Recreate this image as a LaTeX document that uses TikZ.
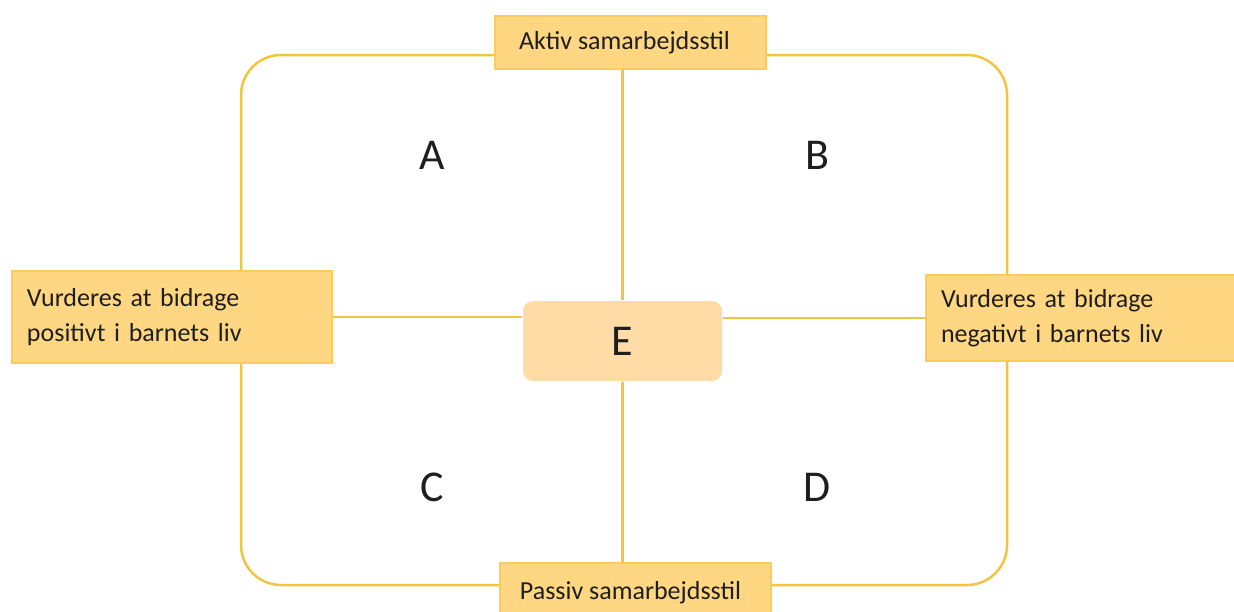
\documentclass[tikz,border=0pt]{standalone}
\usepackage{fontspec}
\setmainfont{Carlito}
\usetikzlibrary{positioning}
\definecolor{linegold}{RGB}{243,196,62}
\definecolor{boxfill}{RGB}{255,215,130}
\definecolor{boxdraw}{RGB}{250,204,88}
\definecolor{efill}{RGB}{255,219,166}
\definecolor{inktext}{RGB}{30,30,30}

\begin{document}
\begin{tikzpicture}[x=1pt,y=-1pt,line width=2.5pt,
  frame/.style={draw=linegold,rounded corners=40pt,minimum width=766pt,minimum height=530pt,inner sep=0pt},
  label box/.style={draw=boxdraw,fill=boxfill,line width=1.5pt,inner sep=0pt,text=inktext,
    font=\fontsize{26}{35}\selectfont},
  side box/.style={label box,align=left,text width=290pt,minimum height=92pt},
  letter/.style={font=\fontsize{44}{44}\selectfont,text=inktext}]
  \useasboundingbox (0,0) rectangle (1234,611);
  \node[frame] (frame) at (624,320) {};
  \node[label box,minimum width=271pt,minimum height=53pt] (top) at (630.5,42.5) {\hspace*{-12pt}Aktiv samarbejdsstil};
  \node[label box,minimum width=271pt,minimum height=60pt] (bottom) at (635.5,593) {\raisebox{6pt}{\hspace*{-10pt}Passiv samarbejdsstil}};
  \node[side box,minimum width=320pt] (left) at (172,317) {Vurderes at bidrage\\positivt i barnets liv};
  \node[side box,minimum width=320pt,minimum height=86pt] (right) at (1086,318) {Vurderes at bidrage\\negativt i barnets liv};
  \node[fill=efill,rounded corners=10pt,minimum width=199pt,minimum height=80pt,letter] (E) at (622.5,341) {E};
  \node[letter] (A) at (432,155) {A};
  \node[letter] (B) at (817,155) {B};
  \node[letter] (C) at (432,487) {C};
  \node[letter] (D) at (817,487) {D};
  \begin{scope}[draw=linegold]
    \draw[linegold] (top.south -| E.north) -- (E.north);
    \draw[linegold] (E.south) -- (bottom.north -| E.south);
    \draw[linegold] (left.east) -- (left.east -| E.west);
    \draw[linegold] (E.east |- right.west) -- (right.west);
  \end{scope}
\end{tikzpicture}
\end{document}
